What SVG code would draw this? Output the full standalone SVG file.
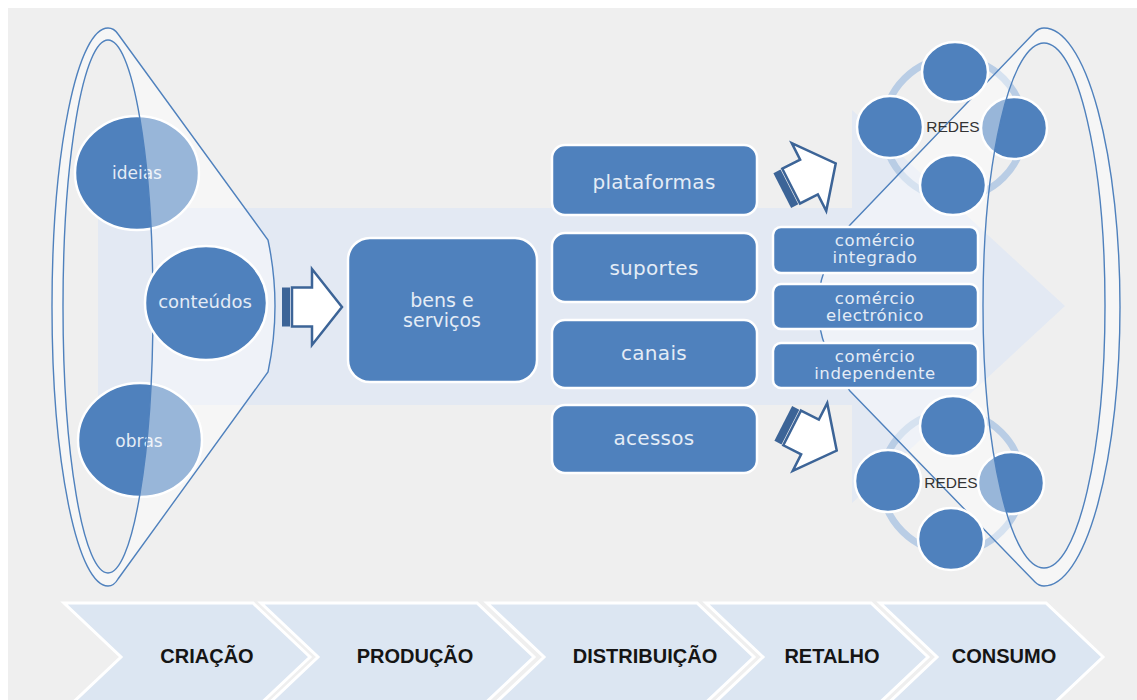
<svg xmlns="http://www.w3.org/2000/svg" xmlns:xlink="http://www.w3.org/1999/xlink" width="1137" height="700" viewBox="0 0 1137 700">
<style>
.node{fill:#4f81bd;stroke:#fff;stroke-width:2.5}
.lbl{font-family:"DejaVu Sans",sans-serif;fill:#e4ecf6;text-anchor:middle}
.funnel{fill:#fff;fill-opacity:.42;stroke:#4f81bd;stroke-width:1.4;fill-rule:evenodd}
.chev{fill:#dce6f2;stroke:#fff;stroke-width:3}
.stage{font-family:"Liberation Sans",Arial,sans-serif;font-weight:bold;font-size:20px;fill:#151515;text-anchor:middle}
.ring{fill:none;stroke:#b9cde5;stroke-width:7}
.redes{font-family:"Liberation Sans",Arial,sans-serif;font-size:15.5px;fill:#333;text-anchor:middle}
</style>
<defs>
<g id="blockArrow">
<rect x="-30" y="-19.5" width="8" height="39" fill="#3c6497"/>
<path d="M-20,-19.5 H0 V-38 L30,0 L0,38 V19.5 H-20 Z" fill="#fff" stroke="#3c6497" stroke-width="2.5"/>
</g>
</defs>
<rect width="1137" height="700" fill="#fff"/>
<rect x="8" y="8" width="1129" height="692" fill="#efefef"/>
<path id="flow-arrow" d="M98,208 H852 V110 L1065,306 L852,503 V405 H98 Z" fill="#e3e9f3"/>
<g id="redes-rings">
<circle class="ring" cx="954" cy="128" r="70"/>
<circle class="ring" cx="952" cy="482" r="70"/>
</g>
<g id="ideias"><ellipse class="node" cx="137" cy="173" rx="62" ry="57"/><text class="lbl" x="137" y="179" font-size="17">ideias</text></g>
<g id="obras"><ellipse class="node" cx="140" cy="440" rx="62" ry="57"/><text class="lbl" x="139" y="447" font-size="17">obras</text></g>
<g id="redes1-right"><ellipse class="node" cx="1014" cy="128" rx="33" ry="31"/></g>
<g id="redes2-right"><ellipse class="node" cx="1011" cy="483" rx="33" ry="31"/></g>
<g id="funnel-left"><path class="funnel" d="M108,28 A56 279 0 0 0 108,586 Q114,586 118,579 L268,372 Q282,306 268,240 L118,34 Q114,28 108,28 Z M63,306.5 A45 266.5 0 1 0 153,306.5 A45 266.5 0 1 0 63,306.5 Z"/></g>
<g id="funnel-right"><path class="funnel" d="M1044,28 A76 279 0 0 1 1044,586 Q1039,586 1035,582 L850,391 Q786,306 850,225 L1035,32 Q1039,28 1044,28 Z M983,305.5 A61 262.5 0 1 0 1105,305.5 A61 262.5 0 1 0 983,305.5 Z"/></g>
<g id="conteudos"><ellipse class="node" cx="206" cy="303" rx="61" ry="57"/><text class="lbl" x="205" y="308" font-size="18">conteúdos</text></g>
<g id="redes1">
<ellipse class="node" cx="955" cy="72" rx="33" ry="30"/>
<ellipse class="node" cx="890" cy="127" rx="33" ry="31"/>
<ellipse class="node" cx="953" cy="185" rx="33" ry="30"/>
<text class="redes" x="953" y="132">REDES</text>
</g>
<g id="redes2">
<ellipse class="node" cx="953" cy="426" rx="33" ry="30"/>
<ellipse class="node" cx="888" cy="481" rx="33" ry="31"/>
<ellipse class="node" cx="951" cy="539" rx="33" ry="31"/>
<text class="redes" x="951" y="488">REDES</text>
</g>
<g id="bens-servicos"><rect class="node" x="348" y="238" width="189" height="144" rx="22"/><text class="lbl" x="442" y="307" font-size="19">bens e</text><text class="lbl" x="442" y="327" font-size="19">serviços</text></g>
<g id="plataformas"><rect class="node" x="552" y="145" width="205" height="70" rx="13"/><text class="lbl" x="654" y="189" font-size="20" letter-spacing="0.3">plataformas</text></g>
<g id="suportes"><rect class="node" x="552" y="233" width="205" height="69" rx="13"/><text class="lbl" x="654" y="275" font-size="20" letter-spacing="0.3">suportes</text></g>
<g id="canais"><rect class="node" x="552" y="320" width="205" height="68" rx="13"/><text class="lbl" x="654" y="360" font-size="20" letter-spacing="0.3">canais</text></g>
<g id="acessos"><rect class="node" x="552" y="405" width="205" height="68" rx="13"/><text class="lbl" x="654" y="445" font-size="20" letter-spacing="0.3">acessos</text></g>
<g id="comercio-integrado"><rect class="node" x="773" y="227" width="205" height="46" rx="8"/><text class="lbl" x="875" y="246" font-size="16.5" letter-spacing="0.6">comércio</text><text class="lbl" x="875" y="263" font-size="16.5" letter-spacing="0.6">integrado</text></g>
<g id="comercio-electronico"><rect class="node" x="773" y="284" width="205" height="45" rx="8"/><text class="lbl" x="875" y="304" font-size="16.5" letter-spacing="0.6">comércio</text><text class="lbl" x="875" y="321" font-size="16.5" letter-spacing="0.6">electrónico</text></g>
<g id="comercio-independente"><rect class="node" x="773" y="343" width="205" height="45" rx="8"/><text class="lbl" x="875" y="362" font-size="16.5" letter-spacing="0.6">comércio</text><text class="lbl" x="875" y="379" font-size="16.5" letter-spacing="0.6">independente</text></g>
<g id="connectors">
<use xlink:href="#blockArrow" href="#blockArrow" transform="translate(312,307)"/>
<use xlink:href="#blockArrow" href="#blockArrow" transform="translate(809,177) rotate(-27)"/>
<use xlink:href="#blockArrow" href="#blockArrow" transform="translate(810,437) rotate(27)"/>
</g>
<g id="stages">
<g id="criacao"><path class="chev" d="M64,603 H253 L310,657 L253,711 H64 L121,657 Z"/><text class="stage" x="207" y="663">CRIAÇÃO</text></g>
<g id="producao"><path class="chev" d="M261,603 H477 L534,657 L477,711 H261 L318,657 Z"/><text class="stage" x="415" y="663">PRODUÇÃO</text></g>
<g id="distribuicao"><path class="chev" d="M487,603 H697 L754,657 L697,711 H487 L544,657 Z"/><text class="stage" x="645" y="663">DISTRIBUIÇÃO</text></g>
<g id="retalho"><path class="chev" d="M706,603 H871 L928,657 L871,711 H706 L763,657 Z"/><text class="stage" x="832" y="663">RETALHO</text></g>
<g id="consumo"><path class="chev" d="M880,603 H1046 L1103,657 L1046,711 H880 L937,657 Z"/><text class="stage" x="1004" y="663">CONSUMO</text></g>
</g>
</svg>
